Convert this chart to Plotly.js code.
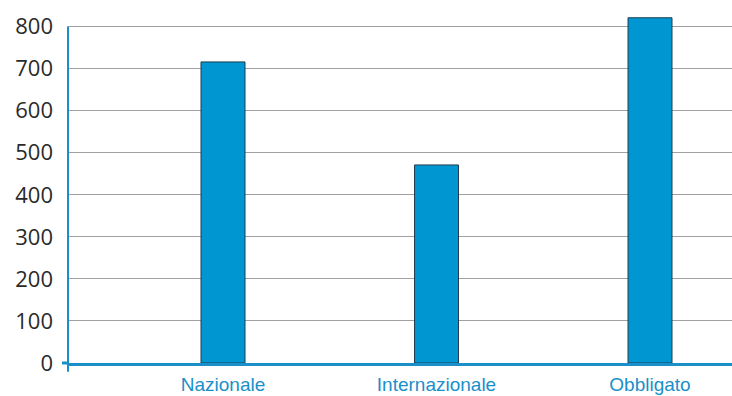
<!DOCTYPE html>
<html>
<head>
<meta charset="utf-8">
<script src="https://cdn.plot.ly/plotly-3.0.1.min.js"></script>
<style>html,body{margin:0;padding:0;background:#fff;}#chart{width:732px;height:396px;}</style>
</head>
<body>
<div id="chart"></div>
<script>
const categories = ["Nazionale", "Internazionale", "Obbligato"];
const values = [716, 471, 821];
const yTicks = [0, 100, 200, 300, 400, 500, 600, 700, 800];

const blue = "#1a8fc9";
const trace = {
  type: "bar",
  x: categories,
  y: values,
  width: 0.206,
  marker: { color: "#0096d1", line: { color: "#1f3d4f", width: 1 } },
  hoverinfo: "x+y"
};

const layout = {
  width: 732, height: 396,
  margin: { l: 68, r: 0, t: 14.4, b: 33 },
  paper_bgcolor: "#ffffff",
  plot_bgcolor: "#ffffff",
  showlegend: false,
  xaxis: {
    type: "category",
    range: [-0.726, 2.384],
    showgrid: false,
    zeroline: false,
    showline: true,
    linecolor: blue,
    linewidth: 3,
    ticks: "",
    tickfont: { family: "'Liberation Sans Narrow', 'Arial Narrow', sans-serif", size: 19, color: blue },
    ticklabelstandoff: 2
  },
  yaxis: {
    range: [0, 830],
    tickvals: yTicks,
    ticktext: yTicks.map(String),
    showgrid: true,
    gridcolor: "#a0a0a0",
    gridwidth: 1,
    zeroline: false,
    showline: false,
    ticks: "",
    ticklabelstandoff: 14,
    tickfont: { family: "Open Sans, sans-serif", size: 22, color: "#2a2a2a" }
  },
  shapes: [
    { type: "line", xref: "paper", yref: "y", x0: 0, x1: 0, y0: 0, y1: yTicks[yTicks.length - 1], line: { color: blue, width: 2 } },
    { type: "line", xref: "paper", yref: "paper", x0: 0, x1: 0, y0: 0, y1: -0.025, line: { color: blue, width: 2 } },
    { type: "line", xref: "paper", yref: "paper", x0: -0.009, x1: 0, y0: 0, y1: 0, line: { color: blue, width: 3 } }
  ]
};

Plotly.newPlot("chart", [trace], layout, { displayModeBar: false, staticPlot: true });
</script>
</body>
</html>
